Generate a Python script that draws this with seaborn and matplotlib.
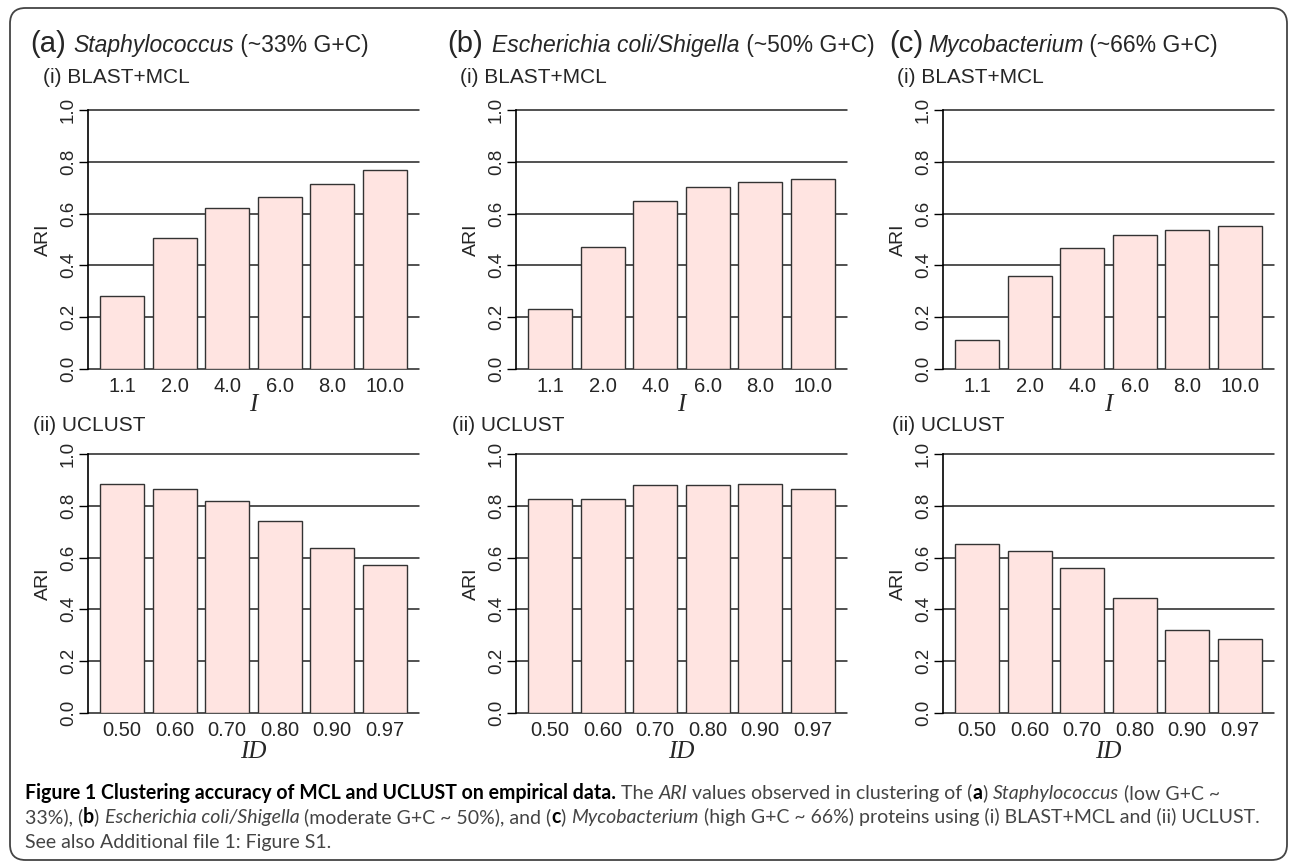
import numpy as np
import pandas as pd
import matplotlib
matplotlib.use("Agg")
import matplotlib.pyplot as plt
from matplotlib.patches import FancyBboxPatch
import seaborn as sns

# ==================================================
# DATA
# ==================================================
mcl_levels = ["1.1", "2.0", "4.0", "6.0", "8.0", "10.0"]
uclust_levels = ["0.50", "0.60", "0.70", "0.80", "0.90", "0.97"]

staph_mcl = [0.281, 0.507, 0.623, 0.665, 0.713, 0.767]
ecoli_mcl = [0.233, 0.472, 0.647, 0.701, 0.723, 0.732]
myco_mcl = [0.112, 0.361, 0.469, 0.517, 0.536, 0.552]

staph_uclust = [0.884, 0.865, 0.819, 0.740, 0.636, 0.570]
ecoli_uclust = [0.825, 0.826, 0.879, 0.879, 0.884, 0.865]
myco_uclust = [0.651, 0.625, 0.560, 0.444, 0.322, 0.286]

panel_letters = ["(a)", "(b)", "(c)"]
genus_names = ["Staphylococcus", "Escherichia coli/Shigella", "Mycobacterium"]
gc_labels = ["(~33% G+C)", "(~50% G+C)", "(~66% G+C)"]
y_ticks = [0.0, 0.2, 0.4, 0.6, 0.8, 1.0]

# ==================================================
# STYLE
# ==================================================
sns.set_style("white")
plt.rcParams["font.family"] = ["Liberation Sans", "DejaVu Sans"]

BAR = "#FFE4E1"
EDGE = "#333333"
W, H = 1290, 863


def fx(x):
    return x / W


def fy(y):
    return 1 - y / H


fig = plt.figure(figsize=(W / 100, H / 100), dpi=100)
renderer = fig.canvas.get_renderer()


def run_width(text, **style):
    # width of a piece of text, spaces included
    a = fig.text(0, 0, "|" + text + "|", **style)
    b = fig.text(0, 0, "||", **style)
    w = a.get_window_extent(renderer).width - b.get_window_extent(renderer).width
    a.remove()
    b.remove()
    return w


def put_runs(x, y, runs, **base):
    for text, style in runs:
        st = dict(base)
        st.update(style)
        fig.text(fx(x), fy(y), text, va="baseline", ha="left", **st)
        x += run_width(text, **st)
    return x


# ==================================================
# PANELS
# ==================================================
lefts = [88, 516, 943]
tops = [110, 454]
AX_W, AX_H = 331, 259

rows = [
    (mcl_levels, [staph_mcl, ecoli_mcl, myco_mcl], "I", 36),
    (uclust_levels, [staph_uclust, ecoli_uclust, myco_uclust], "ID", 39),
]

for r, (levels, series, xlab, xlab_off) in enumerate(rows):
    for c, values in enumerate(series):
        ax = fig.add_axes([fx(lefts[c]), fy(tops[r] + AX_H), AX_W / W, AX_H / H])
        df = pd.DataFrame({"level": levels, "ari": values})
        sns.barplot(
            data=df, x="level", y="ari", ax=ax,
            color=BAR, saturation=1, width=1 / 1.2,
            edgecolor=EDGE, linewidth=1.0,
        )
        ax.set_xlim(-0.65, 5.65)
        ax.set_ylim(0, 1)

        for v in y_ticks:
            ax.axhline(v, color="#222222", lw=1.1, zorder=0.5, clip_on=False)

        for side in ["top", "right", "bottom"]:
            ax.spines[side].set_visible(False)
        ax.spines["left"].set_bounds(0, 1)
        ax.spines["left"].set_color("black")
        ax.spines["left"].set_linewidth(1.2)

        ax.set_yticks(y_ticks)
        ax.set_yticklabels([f"{v:.1f}" for v in y_ticks])
        ax.tick_params(axis="y", length=6.5, width=1, direction="out",
                       pad=1.5, labelsize=13.5, left=True, color="black")
        for lab in ax.get_yticklabels():
            lab.set_rotation(90)
            lab.set_va("center")
        ax.tick_params(axis="x", length=0, pad=6, labelsize=14.5)

        ax.set_xlabel(xlab, fontfamily="Liberation Serif", fontstyle="italic",
                      fontsize=18)
        ax.xaxis.set_label_coords(0.5, -xlab_off / AX_H)
        ax.xaxis.label.set_va("center")

        ax.set_ylabel("ARI", fontsize=14)
        ax.yaxis.set_label_coords(-45 / AX_W, 0.5)
        ax.yaxis.label.set_va("center")

# ==================================================
# HEADINGS
# ==================================================
letter_x = [30, 447, 889]
genus_x = [73, 492, 928]
sub1_x = [43, 460, 897]
sub2_x = [33, 452, 892]

for i in range(3):
    fig.text(fx(letter_x[i]), fy(52), panel_letters[i], fontsize=21,
             va="baseline", ha="left")
    put_runs(genus_x[i], 52,
             [(genus_names[i], {"fontstyle": "italic"}),
              (" " + gc_labels[i], {})],
             fontsize=16.5)
    fig.text(fx(sub1_x[i]), fy(83), "(i) BLAST+MCL", fontsize=15,
             va="baseline", ha="left")
    fig.text(fx(sub2_x[i]), fy(431), "(ii) UCLUST", fontsize=15,
             va="baseline", ha="left")

# ==================================================
# CAPTION
# ==================================================
GREY = "#444444"
B = {"fontweight": "bold", "color": "black"}
R = {"color": GREY}
IT = {"fontstyle": "italic", "color": GREY}
BG = {"fontweight": "bold", "color": "black"}

caption_lines = [
    [("Figure 1 Clustering accuracy of MCL and UCLUST on empirical data.", B),
     (" The ", R), ("ARI", IT), (" values observed in clustering of (", R),
     ("a", BG), (") ", R), ("Staphylococcus", IT), (" (low G+C ~", R)],
    [("33%), (", R), ("b", BG), (") ", R), ("Escherichia coli/Shigella", IT),
     (" (moderate G+C ~ 50%), and (", R), ("c", BG), (") ", R),
     ("Mycobacterium", IT),
     (" (high G+C ~ 66%) proteins using (i) BLAST+MCL and (ii) UCLUST.", R)],
    [("See also Additional file 1: Figure S1.", R)],
]

cap_font = ["Lato", "Open Sans", "DejaVu Sans"]
targets = [1240, 1233]
size = 12
scales = []
for line, target in zip(caption_lines[:2], targets):
    w = sum(run_width(t, fontsize=size, fontfamily=cap_font, **s) for t, s in line)
    scales.append(target / w)
size = size * min(scales)

baselines = [799, 823, 848]
for line, yb in zip(caption_lines, baselines):
    put_runs(25, yb, line, fontsize=size, fontfamily=cap_font)

# ==================================================
# BORDER
# ==================================================
border = FancyBboxPatch(
    (fx(10), fy(860)), (1287 - 10) / W, (860 - 8) / H,
    boxstyle="round,pad=0,rounding_size=0.012",
    mutation_aspect=W / H,
    transform=fig.transFigure, fill=False, edgecolor="#444444", lw=1.3,
)
fig.patches.append(border)

fig.savefig("out.png", dpi=100)
plt.close(fig)
